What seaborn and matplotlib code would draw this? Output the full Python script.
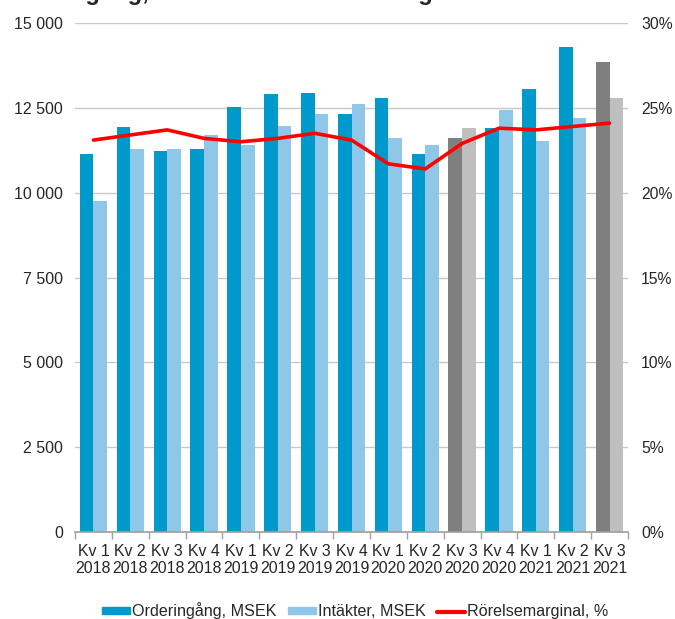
import numpy as np
import pandas as pd
import matplotlib
matplotlib.use("Agg")
import matplotlib.pyplot as plt
import matplotlib.patches as mpatches
import matplotlib.lines as mlines
from matplotlib.ticker import FuncFormatter, MultipleLocator
import seaborn as sns

quarters = ["Kv 1\n2018", "Kv 2\n2018", "Kv 3\n2018", "Kv 4\n2018",
            "Kv 1\n2019", "Kv 2\n2019", "Kv 3\n2019", "Kv 4\n2019",
            "Kv 1\n2020", "Kv 2\n2020", "Kv 3\n2020", "Kv 4\n2020",
            "Kv 1\n2021", "Kv 2\n2021", "Kv 3\n2021"]
orders = [11140, 11925, 11240, 11280, 12515, 12900, 12935, 12310,
          12800, 11140, 11600, 11900, 13055, 14290, 13860]
revenue = [9755, 11280, 11280, 11700, 11405, 11955, 12320, 12600,
           11600, 11405, 11900, 12445, 11530, 12210, 12790]
margin = [23.1, 23.4, 23.7, 23.2, 23.0, 23.2, 23.5, 23.1,
          21.7, 21.4, 22.9, 23.8, 23.7, 23.9, 24.1]
grey_quarters = [10, 14]

c_order = "#0099CC"
c_rev = "#8EC7E8"
c_order_grey = "#7F7F7F"
c_rev_grey = "#BFBFBF"
c_line = "#FF0000"

df = pd.DataFrame({
    "kvartal": quarters * 2,
    "värde": orders + revenue,
    "serie": ["Orderingång, MSEK"] * len(quarters) + ["Intäkter, MSEK"] * len(quarters),
})

sns.set_theme(style="white")
plt.rcParams["font.family"] = ["Liberation Sans", "DejaVu Sans"]

fig = plt.figure(figsize=(6.75, 6.19), dpi=100)
ax = fig.add_axes([75 / 675, 1 - 532 / 619, (628 - 75) / 675, (532 - 23) / 619])

sns.barplot(data=df, x="kvartal", y="värde", hue="serie",
            palette=[c_order, c_rev], width=0.74, gap=0,
            saturation=1, legend=False, ax=ax)

n = len(quarters)
for i, p in enumerate(ax.patches[:2 * n]):
    k = i % n
    first = i < n
    if k in grey_quarters:
        p.set_facecolor(c_order_grey if first else c_rev_grey)
    p.set_edgecolor("none")

ax.set_xlim(-0.5, n - 0.5)
ax.set_ylim(0, 15000)
ax.yaxis.set_major_locator(MultipleLocator(2500))
ax.yaxis.set_major_formatter(FuncFormatter(lambda v, _: f"{int(v):,}".replace(",", " ")))
ax.set_xlabel("")
ax.set_ylabel("")
ax.grid(axis="y", color="#C8C8C8", linewidth=1)
ax.set_axisbelow(True)
for s in ["top", "left", "right"]:
    ax.spines[s].set_visible(False)
ax.spines["bottom"].set_color("#A0A0A0")
ax.set_xticks(np.arange(-0.5, n, 1.0), minor=True)
ax.tick_params(axis="x", which="minor", length=5, color="#A0A0A0", width=1, bottom=True)
ax.tick_params(axis="x", which="major", length=0, labelsize=11.4, pad=9)
ax.tick_params(axis="y", length=0, labelsize=11.5, pad=8.7)
for t in ax.get_xticklabels():
    t.set_linespacing(1.15)

ax2 = ax.twinx()
sns.lineplot(x=np.arange(n), y=margin, color=c_line, linewidth=2.6, ax=ax2)
ax2.set_ylim(0, 30)
ax2.yaxis.set_major_locator(MultipleLocator(5))
ax2.yaxis.set_major_formatter(FuncFormatter(lambda v, _: f"{int(v)}%"))
ax2.tick_params(axis="y", length=0, labelsize=11.3, pad=9.5)
for s in ax2.spines.values():
    s.set_visible(False)
ax2.set_xlim(-0.5, n - 0.5)

# title, mostly cut off at the top edge as in the source
fig.text(0.0, 1.0, "Orderingång, intäkter och rörelsemarginal",
         fontsize=17, fontweight="bold", ha="left", va="baseline")

handles = [
    mpatches.Patch(color=c_order, label="Orderingång, MSEK"),
    mpatches.Patch(color=c_rev, label="Intäkter, MSEK"),
    mlines.Line2D([], [], color=c_line, linewidth=3, label="Rörelsemarginal, %"),
]
fig.legend(handles=handles, loc="center", bbox_to_anchor=(355 / 675, 1 - 611 / 619),
           ncol=3, frameon=False, fontsize=11.6, handlelength=1.75, handleheight=0.32,
           handletextpad=0.12, columnspacing=0.7, borderpad=0)

fig.savefig("out.png", dpi=100)
